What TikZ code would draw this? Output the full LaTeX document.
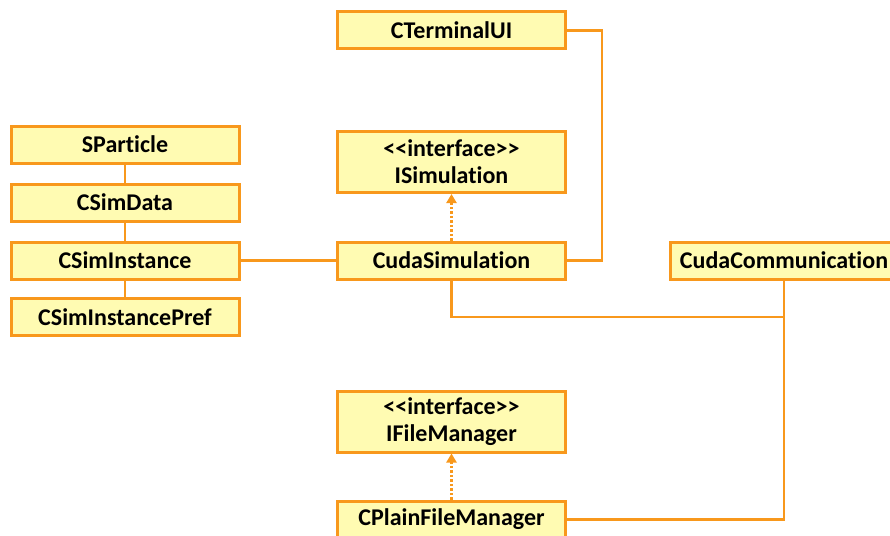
\documentclass[tikz,border=0pt]{standalone}
\usepackage{fontspec}
\setmainfont{Carlito}[Ligatures={NoCommon}]
\usetikzlibrary{arrows.meta}
\definecolor{umlborder}{RGB}{248,152,28}
\definecolor{umlfill}{RGB}{255,251,178}
\tikzset{
  classbox/.style={draw=umlborder, fill=umlfill, line width=3pt,
    minimum width=228pt, minimum height=37pt, inner sep=0pt,
    font=\fontsize{24}{27}\selectfont\bfseries, align=center},
  ifacebox/.style={classbox, minimum height=61pt},
  assoc/.style={draw=umlborder, line width=2.5pt},
  realize/.style={draw=umlborder, line width=2.5pt, dotted,
    -{Triangle[width=10pt,length=9pt]}}
}
\begin{document}
\begin{tikzpicture}[x=1pt,y=-1pt]
\useasboundingbox (0,0) rectangle (890,535);
% left stack of data classes
\node[classbox] (sparticle) at (125,144.5) {SParticle};
\node[classbox] (csimdata) at (125,202.5) {CSimData};
\node[classbox] (csiminst) at (125,260.5) {CSimInstance};
\node[classbox] (csimpref) at (125,317) {CSimInstancePref};
% middle column
\node[classbox] (terminal) at (451.5,30.5) {CTerminalUI};
\node[ifacebox] (isim) at (451.5,162) {{<}{<}interface{>}{>}\\ISimulation};
\node[classbox] (cudasim) at (451.5,260.5) {CudaSimulation};
\node[ifacebox] (ifile) at (451.5,421.5) {{<}{<}interface{>}{>}\\IFileManager};
\node[classbox] (plainfile) at (451.5,519.5) {CPlainFileManager};
% right
\node[classbox, minimum width=227pt] (cudacomm) at (784,260.5) {CudaCommunication};
% associations
\draw[assoc] (sparticle) -- (csimdata);
\draw[assoc] (csimdata) -- (csiminst);
\draw[assoc] (csiminst) -- (csimpref);
\draw[assoc] (csiminst) -- (cudasim);
\draw[assoc] (terminal.east) -| (602,0 |- cudasim.east) -- (cudasim.east);
\coordinate (junction) at (784,317);
\draw[assoc] (cudasim.south) |- (junction);
\draw[assoc] (cudacomm.south) |- (plainfile.east);
% interface realizations
\draw[realize] (cudasim.north) -- (isim.south);
\draw[realize] (plainfile.north) -- (ifile.south);
\end{tikzpicture}
\end{document}
